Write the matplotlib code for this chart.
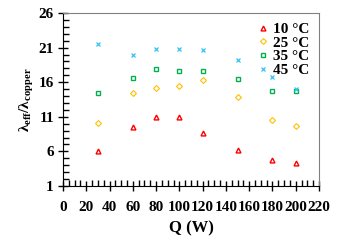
import matplotlib
matplotlib.use("Agg")
import matplotlib.pyplot as plt
from matplotlib.ticker import MultipleLocator

# Heat load (W) and effective conductivity ratio per coolant temperature
q = [30, 60, 80, 100, 120, 150, 180, 200]
t10 = [6.0, 9.5, 10.9, 10.9, 8.7, 6.25, 4.7, 4.3]
t25 = [10.05, 14.5, 15.1, 15.4, 16.3, 13.8, 10.5, 9.6]
t35 = [14.4, 16.55, 17.85, 17.6, 17.6, 16.4, 14.7, 14.7]
t45 = [21.45, 20.0, 20.85, 20.85, 20.6, 19.15, 16.7, 15.0]
labels = ["10 \u00b0C", "25 \u00b0C", "35 \u00b0C", "45 \u00b0C"]

plt.rcParams["font.family"] = ["Liberation Serif", "DejaVu Serif"]
plt.rcParams["font.weight"] = "bold"
plt.rcParams["mathtext.fontset"] = "custom"
plt.rcParams["mathtext.rm"] = "Liberation Serif:bold"
plt.rcParams["mathtext.it"] = "Liberation Serif:bold"

fig = plt.figure(figsize=(3.59, 2.40), dpi=100)
ax = fig.add_axes([63 / 359, 1 - 186 / 240, 256 / 359, 173 / 240])

ax.plot(q, t10, ls="none", marker="^", ms=3.5, mfc="none", mec="#ff0000", mew=1, label=labels[0])
ax.plot(q, t25, ls="none", marker="D", ms=3, mfc="none", mec="#ffc000", mew=0.8, label=labels[1])
ax.plot(q, t35, ls="none", marker="s", ms=3.5, mfc="none", mec="#00b050", mew=1, label=labels[2])
ax.plot(q, t45, ls="none", marker="x", ms=3.5, mec="#33c3f0", mew=0.9, label=labels[3])

ax.set_xlim(0, 220)
ax.set_ylim(1, 26)
ax.xaxis.set_major_locator(MultipleLocator(20))
ax.xaxis.set_minor_locator(MultipleLocator(5))
ax.yaxis.set_minor_locator(MultipleLocator(1))
ax.set_yticks([1, 6, 11, 16, 21, 26])

ax.tick_params(which="major", direction="inout", length=7, width=1, labelsize=11)
ax.tick_params(which="minor", direction="in", length=4, width=1)
ax.tick_params(axis="x", pad=7)
ax.tick_params(axis="y", pad=3)
for side in ["top", "right"]:
    ax.spines[side].set_color("#808080")

ax.set_xlabel("Q (W)", fontsize=12, fontweight="bold", labelpad=5)
ax.set_ylabel(r"$\lambda_{eff}/\lambda_{copper}$", fontsize=11, labelpad=2)

ax.legend(loc="upper right", frameon=False, handletextpad=0.2,
          handlelength=1, labelspacing=0.0, borderaxespad=0.2,
          prop={"weight": "bold", "size": 11})

fig.savefig("out.png", dpi=100)
